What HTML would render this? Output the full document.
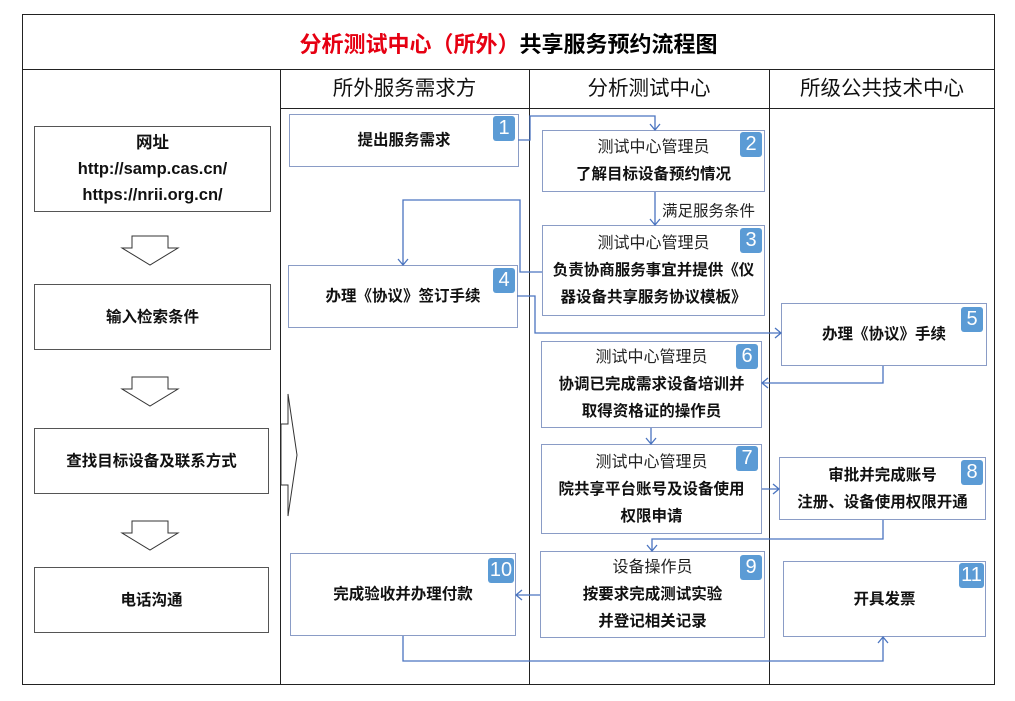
<!DOCTYPE html>
<html><head><meta charset="utf-8"><style>
body{margin:0;width:1015px;height:701px;background:#fff;position:relative;overflow:hidden;font-family:"Liberation Sans","Noto Sans CJK SC",sans-serif;}
.a{position:absolute;box-sizing:border-box;}
.box{position:absolute;box-sizing:border-box;border:1.5px solid #8a9cc6;background:#fff;display:flex;flex-direction:column;justify-content:center;align-items:center;text-align:center;font-size:15.5px;line-height:27px;color:#111;}
.lb{border:1.5px solid #555;font-weight:bold;font-size:15.5px;}
.b{font-weight:bold;}
.n{font-weight:normal;font-size:16px;color:#222;}
.bd{position:absolute;width:22px;height:25px;background:#5b9bd5;color:#fff;border-radius:3px;font-size:20px;line-height:25px;text-align:center;}
.h{position:absolute;top:70px;height:38px;line-height:38px;text-align:center;font-size:20.5px;color:#111;}
</style></head><body>
<div class="a" style="left:22px;top:14px;width:973px;height:671px;border:1.5px solid #222;"></div>
<div class="a" style="left:22px;top:69px;width:973px;border-top:1.5px solid #222;"></div>
<div class="a" style="left:280px;top:108px;width:715px;border-top:1.5px solid #222;"></div>
<div class="a" style="left:280px;top:69px;height:616px;border-left:1.5px solid #222;"></div>
<div class="a" style="left:529px;top:69px;height:616px;border-left:1.5px solid #222;"></div>
<div class="a" style="left:769px;top:69px;height:616px;border-left:1.5px solid #222;"></div>
<div class="a" style="left:22px;top:27px;width:973px;text-align:center;font-size:22px;font-weight:bold;"><span style="color:#e60012">分析测试中心（所外）</span>共享服务预约流程图</div>
<div class="h" style="left:280px;width:249px;">所外服务需求方</div>
<div class="h" style="left:529px;width:240px;">分析测试中心</div>
<div class="h" style="left:769px;width:226px;">所级公共技术中心</div>

<div class="box lb" style="left:34px;top:126px;width:237px;height:86px;line-height:26px;font-size:16.5px;">网址<br>http://samp.cas.cn/<br>https://nrii.org.cn/</div>
<div class="box lb" style="left:34px;top:284px;width:237px;height:66px;">输入检索条件</div>
<div class="box lb" style="left:34px;top:428px;width:235px;height:66px;">查找目标设备及联系方式</div>
<div class="box lb" style="left:34px;top:567px;width:235px;height:66px;">电话沟通</div>

<div class="box b" style="left:289px;top:114px;width:230px;height:53px;">提出服务需求</div><div class="bd" style="left:493px;top:116px;">1</div>
<div class="box" style="left:542px;top:130px;width:223px;height:62px;"><span class="n">测试中心管理员</span><span class="b">了解目标设备预约情况</span></div><div class="bd" style="left:740px;top:132px;">2</div>
<div class="box" style="left:542px;top:225px;width:223px;height:91px;"><span class="n">测试中心管理员</span><span class="b">负责协商服务事宜并提供《仪<br>器设备共享服务协议模板》</span></div><div class="bd" style="left:740px;top:228px;">3</div>
<div class="box b" style="left:288px;top:265px;width:230px;height:63px;">办理《协议》签订手续</div><div class="bd" style="left:493px;top:268px;">4</div>
<div class="box b" style="left:781px;top:303px;width:206px;height:63px;">办理《协议》手续</div><div class="bd" style="left:961px;top:307px;">5</div>
<div class="box" style="left:541px;top:341px;width:221px;height:87px;"><span class="n">测试中心管理员</span><span class="b">协调已完成需求设备培训并<br>取得资格证的操作员</span></div><div class="bd" style="left:736px;top:344px;">6</div>
<div class="box" style="left:541px;top:444px;width:221px;height:90px;"><span class="n">测试中心管理员</span><span class="b">院共享平台账号及设备使用<br>权限申请</span></div><div class="bd" style="left:736px;top:446px;">7</div>
<div class="box b" style="left:779px;top:457px;width:207px;height:63px;">审批并完成账号<br>注册、设备使用权限开通</div><div class="bd" style="left:961px;top:460px;">8</div>
<div class="box" style="left:540px;top:551px;width:225px;height:87px;"><span class="n">设备操作员</span><span class="b">按要求完成测试实验<br>并登记相关记录</span></div><div class="bd" style="left:740px;top:555px;">9</div>
<div class="box b" style="left:290px;top:553px;width:226px;height:83px;">完成验收并办理付款</div><div class="bd" style="left:488px;top:558px;width:26px;">10</div>
<div class="box b" style="left:783px;top:561px;width:203px;height:76px;">开具发票</div><div class="bd" style="left:959px;top:563px;width:25px;">11</div>
<div class="a" style="left:662px;top:199px;font-size:15.5px;color:#222;">满足服务条件</div>

<svg class="a" style="left:0;top:0" width="1015" height="701">
<g fill="#fff" stroke="#333" stroke-width="1">
<polygon points="132,236 168,236 168,248 178,248 150,265 122,248 132,248"/>
<polygon points="132,377 168,377 168,389 178,389 150,406 122,389 132,389"/>
<polygon points="132,521 168,521 168,533 178,533 150,550 122,533 132,533"/>
<polygon points="281,424 288,424 288,394 297,455 288,516 288,485 281,485"/>
</g>
<g fill="none" stroke="#4a74c0" stroke-width="1.3">
<polyline points="518,140 530,140 530,116 655,116 655,130"/>
<line x1="655" y1="192" x2="655" y2="225"/>
<polyline points="542,272 520,272 520,200 403,200 403,265"/>
<polyline points="517,296 535,296 535,333 781,333"/>
<polyline points="883,366 883,383 762,383"/>
<line x1="651" y1="428" x2="651" y2="444"/>
<line x1="762" y1="489" x2="779" y2="489"/>
<polyline points="883,520 883,539 652,539 652,551"/>
<line x1="540" y1="595" x2="516" y2="595"/>
<polyline points="403,636 403,661 883,661 883,637"/>
<polyline points="650,124 655,130 660,124"/>
<polyline points="650,219 655,225 660,219"/>
<polyline points="398,259 403,265 408,259"/>
<polyline points="775,328 781,333 775,338"/>
<polyline points="768,378 762,383 768,388"/>
<polyline points="646,438 651,444 656,438"/>
<polyline points="773,484 779,489 773,494"/>
<polyline points="647,545 652,551 657,545"/>
<polyline points="522,590 516,595 522,600"/>
<polyline points="878,643 883,637 888,643"/>
</g>
</svg>
</body></html>
